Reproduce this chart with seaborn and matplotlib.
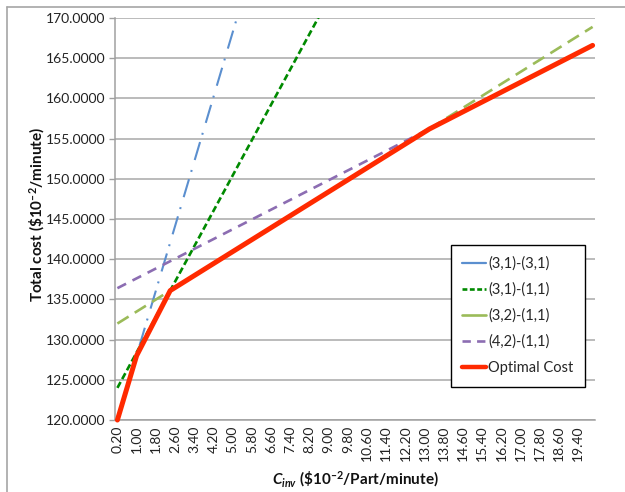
import matplotlib
matplotlib.use("Agg")
import matplotlib.pyplot as plt
import seaborn as sns
import numpy as np
import pandas as pd
from matplotlib.lines import Line2D

# ---- data ----
series_names = ["(3,1)-(3,1)", "(3,1)-(1,1)", "(3,2)-(1,1)", "(4,2)-(1,1)", "Optimal Cost"]

c_31_31 = [0.2, 5.2]
cost_31_31 = [120.0, 170.2]

c_31_11 = [0.2, 8.6]
cost_31_11 = [124.0, 170.2]

c_32_11 = [0.2, 20.0]
cost_32_11 = [132.0, 168.9]

c_42_11 = [0.2, 20.0]
cost_42_11 = [136.4, 166.6]

c_opt = [0.2, 1.0, 2.4, 13.2, 20.0]
cost_opt = [120.0, 128.0, 136.1, 156.2, 166.6]

x_tick_values = [0.2, 1.0, 1.8, 2.6, 3.4, 4.2, 5.0, 5.8, 6.6, 7.4, 8.2, 9.0, 9.8,
                 10.6, 11.4, 12.2, 13.0, 13.8, 14.6, 15.4, 16.2, 17.0, 17.8, 18.6, 19.4]
x_tick_labels = [f"{v:.2f}" for v in x_tick_values]
y_tick_values = [120, 125, 130, 135, 140, 145, 150, 155, 160, 165, 170]
y_tick_labels = [f"{v:.4f}" for v in y_tick_values]

# ---- styling ----
sns.set_theme(style="white")
plt.rcParams["font.family"] = ["Lato", "DejaVu Sans"]
plt.rcParams["mathtext.fontset"] = "custom"
plt.rcParams["mathtext.rm"] = "Lato:bold"
plt.rcParams["mathtext.bf"] = "Lato:bold"
plt.rcParams["mathtext.it"] = "Lato:bold:italic"
plt.rcParams["lines.scale_dashes"] = False

colors = ["#5b8fcf", "#008a00", "#9bbb59", "#8c6db2", "#ff2a00"]
widths = [1.5, 1.9, 1.9, 1.9, 3.6]
styles = [(0, (13.5, 5.5, 1.4, 7.5)), (0, (4.8, 2.4)), (0, (9.5, 5.2)), (0, (7.0, 5.2)), "-"]

fig = plt.figure(figsize=(6.25, 4.92), dpi=100)
ax = fig.add_axes([0.184, 0.1463, 0.768, 0.817])

xs = [c_31_31, c_31_11, c_32_11, c_42_11, c_opt]
ys = [cost_31_31, cost_31_11, cost_32_11, cost_42_11, cost_opt]
for i, (name, x, y) in enumerate(zip(series_names, xs, ys)):
    df = pd.DataFrame({"C_inv": x, "cost": y})
    sns.lineplot(data=df, x="C_inv", y="cost", ax=ax, color=colors[i],
                 linewidth=widths[i], linestyle=styles[i], zorder=3 + i,
                 clip_on=(i != 4), solid_capstyle="round",
                 errorbar=None, estimator=None, legend=False)

ax.set_xlim(0.1, 20.1)
ax.set_ylim(120, 170)
ax.set_xticks(x_tick_values)
ax.set_xticklabels(x_tick_labels, rotation=90, fontsize=10, color="#222222")
ax.set_yticks(y_tick_values)
ax.set_yticklabels(y_tick_labels, fontsize=10, color="#222222")
ax.tick_params(axis="x", length=0, pad=4)
ax.tick_params(axis="y", length=4, width=1, color="#a0a0a0", pad=3, left=True)

ax.yaxis.grid(True, color="#a8a8a8", linewidth=1.1)
ax.xaxis.grid(False)
ax.set_axisbelow(True)
for s in ["top", "right"]:
    ax.spines[s].set_visible(False)
for s in ["left", "bottom"]:
    ax.spines[s].set_color("#a0a0a0")
    ax.spines[s].set_linewidth(1.1)

sup = "$10^{\u2013" + "2}$"
ax.set_ylabel("Total cost (\\$" + sup + "/minute)", fontsize=11, fontweight="bold",
              color="#111111")
ax.yaxis.set_label_coords(-0.142, 0.512)
ax.set_xlabel("$C_{inv}$ (\\$" + sup + "/Part/minute)", fontsize=11, fontweight="bold",
              color="#111111", labelpad=6)

handles = [
    Line2D([], [], color=colors[0], linewidth=1.6, linestyle="-"),
    Line2D([], [], color=colors[1], linewidth=1.9, linestyle=(0, (3.5, 1.8))),
    Line2D([], [], color=colors[2], linewidth=1.9, linestyle="-"),
    Line2D([], [], color=colors[3], linewidth=1.9, linestyle=(0, (6.0, 4.5))),
    Line2D([], [], color=colors[4], linewidth=3.2, linestyle="-"),
]
leg = ax.legend(handles, series_names, loc="upper right", bbox_to_anchor=(0.979, 0.435),
                fontsize=10.5, frameon=True, fancybox=False, framealpha=1,
                edgecolor="black", handlelength=1.6, handletextpad=0.15,
                labelspacing=0.8, borderpad=0.8, borderaxespad=0)
leg.get_frame().set_linewidth(1.0)
leg.set_zorder(20)

# chart-area border (top and left edges visible in the reference)
fig.add_artist(Line2D([7 / 625, 1.0], [1 - 7 / 492, 1 - 7 / 492], transform=fig.transFigure,
                      color="#a6a6a6", linewidth=1.2))
fig.add_artist(Line2D([7 / 625, 7 / 625], [0.0, 1 - 7 / 492], transform=fig.transFigure,
                      color="#a6a6a6", linewidth=1.2))

fig.savefig("out.png", dpi=100)
